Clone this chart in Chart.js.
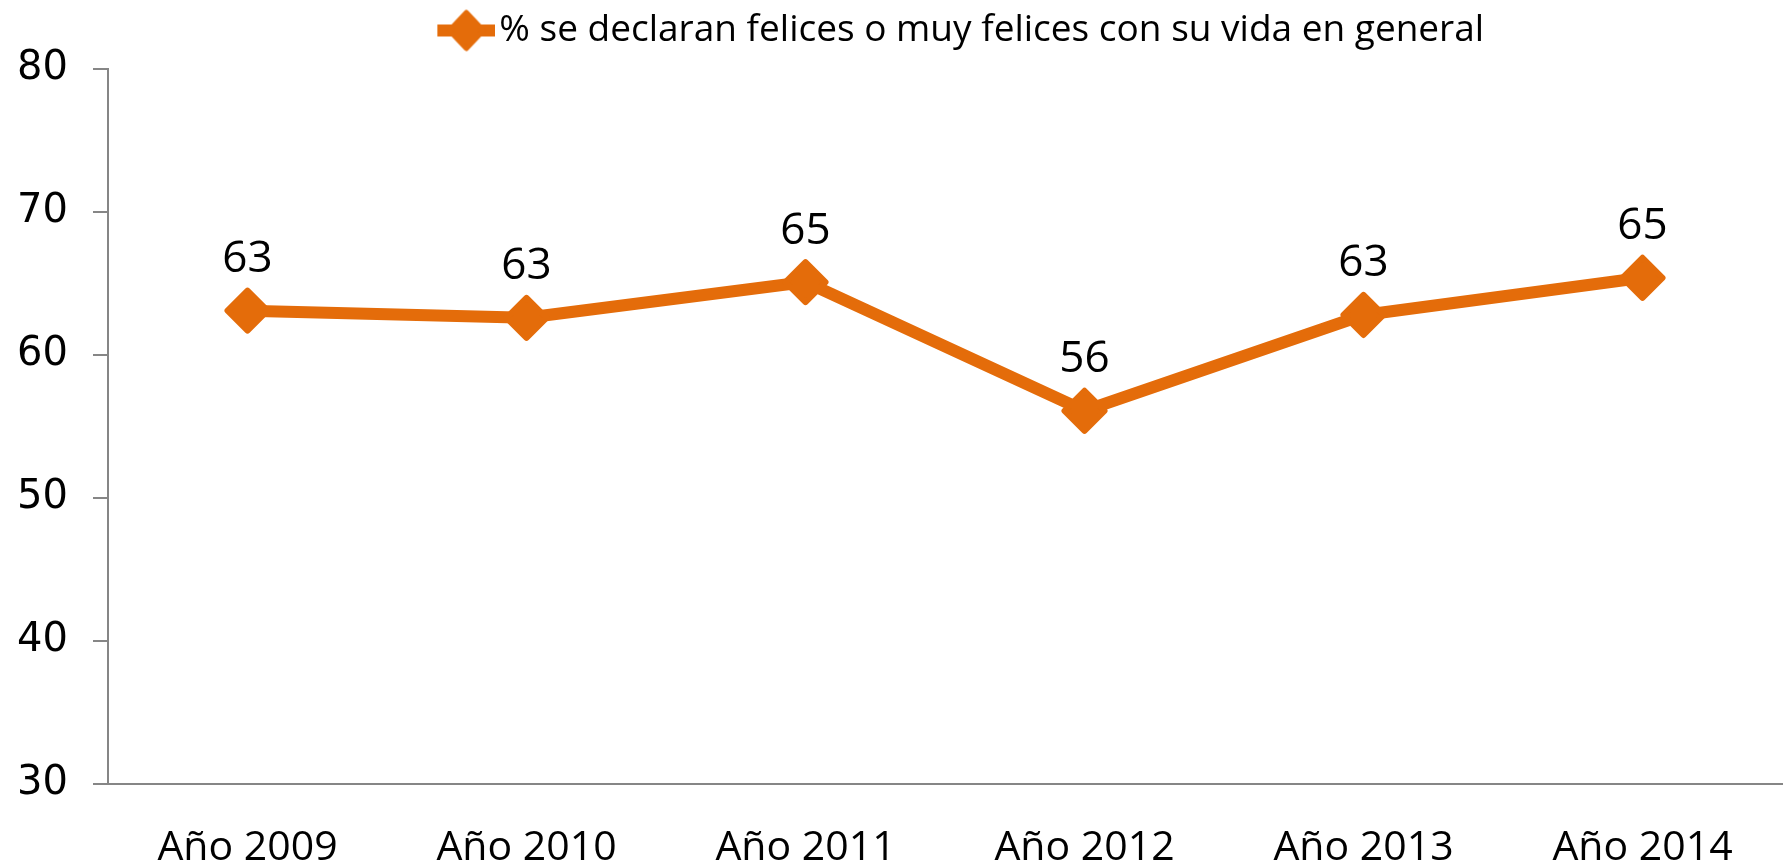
<!DOCTYPE html>
<html>
<head>
<meta charset="utf-8">
<script src="https://cdn.jsdelivr.net/npm/chart.js@4/dist/chart.umd.min.js"></script>
<style>
  html, body { margin: 0; padding: 0; background: #fff; overflow: hidden; }
  #wrap { width: 1785px; height: 868px; }
</style>
</head>
<body>
<div id="wrap"><canvas id="happyChart"></canvas></div>
<script>
// Datos
const years = ['Año 2009', 'Año 2010', 'Año 2011', 'Año 2012', 'Año 2013', 'Año 2014'];
const happyPct = [63.1, 62.6, 65.1, 56.1, 62.8, 65.4];
const yTicks = [30, 40, 50, 60, 70, 80];
const seriesLabel = '% se declaran felices o muy felices con su vida en general';

const orange = '#E46C0A';
const axisGray = '#868686';

// legend box is wider than the marker so the legend sits a bit right of centre
const legendBoxWidth = 183;

// Legend marker: line with diamond, drawn on the right side of the image
function makeLegendMarker() {
    const c = document.createElement('canvas');
    c.width = legendBoxWidth + 29;
    c.height = 44;
    const g = c.getContext('2d');
    const x0 = c.width - 58;
    g.strokeStyle = orange;
    g.fillStyle = orange;
    g.lineWidth = 12;
    g.beginPath();
    g.moveTo(x0, 22);
    g.lineTo(x0 + 58, 22);
    g.stroke();
    g.lineWidth = 5;
    g.lineJoin = 'round';
    g.beginPath();
    g.moveTo(x0 + 29, 4);
    g.lineTo(x0 + 46, 22);
    g.lineTo(x0 + 29, 40);
    g.lineTo(x0 + 12, 22);
    g.closePath();
    g.fill();
    g.stroke();
    return c;
}

// Data labels above each point + extra room under the legend
const valueLabels = {
    id: 'valueLabels',
    afterInit(chart) {
        const legend = chart.legend;
        if (legend && !legend._padded) {
            const origFit = legend.fit;
            legend.fit = function() {
                origFit.call(this);
                this.height += 10;
            };
            legend._padded = true;
        }
    },
    beforeDatasetsDraw(chart) {
        chart.ctx.lineJoin = 'round';
    },
    afterDatasetsDraw(chart) {
        const ctx = chart.ctx;
        const meta = chart.getDatasetMeta(0);
        ctx.save();
        ctx.font = '44px "Open Sans"';
        ctx.fillStyle = '#000';
        ctx.textAlign = 'center';
        ctx.textBaseline = 'middle';
        meta.data.forEach(function(pt, i) {
            ctx.fillText(String(Math.round(happyPct[i])), pt.x, pt.y - 51);
        });
        ctx.restore();
    }
};

const ctx = document.getElementById('happyChart').getContext('2d');
const happyChart = new Chart(ctx, {
    type: 'line',
    data: {
        labels: years,
        datasets: [{
            label: seriesLabel,
            data: happyPct,
            borderColor: orange,
            backgroundColor: orange,
            borderWidth: 12,
            borderJoinStyle: 'round',
            tension: 0,
            fill: false,
            pointStyle: 'rectRot',
            pointRadius: 20,
            pointBorderWidth: 6,
            pointBackgroundColor: orange,
            pointBorderColor: orange,
        }]
    },
    options: {
        responsive: true,
        maintainAspectRatio: false,
        animation: false,
        layout: {
            autoPadding: false,
            padding: { left: 0, right: 3, top: 0, bottom: 0 }
        },
        plugins: {
            legend: {
                position: 'top',
                labels: {
                    usePointStyle: true,
                    pointStyle: makeLegendMarker(),
                    pointStyleWidth: legendBoxWidth,
                    padding: 12,
                    color: '#000',
                    font: { family: 'Open Sans', size: 37 }
                }
            },
            tooltip: { enabled: false }
        },
        scales: {
            x: {
                offset: true,
                grid: { display: false, drawTicks: false },
                border: { display: true, color: axisGray, width: 2 },
                ticks: {
                    color: '#000',
                    padding: 40,
                    font: { family: 'Open Sans', size: 41 }
                },
                afterFit: function(scale) {
                    scale.height = 84;
                    scale.paddingLeft = 0;
                    scale.paddingRight = 0;
                }
            },
            y: {
                min: 30,
                max: 80,
                afterBuildTicks: function(scale) {
                    scale.ticks = yTicks.map(v => ({ value: v }));
                },
                grid: {
                    drawOnChartArea: false,
                    drawTicks: true,
                    tickLength: 15,
                    color: axisGray,
                    lineWidth: 2
                },
                border: { display: true, color: axisGray, width: 2 },
                ticks: {
                    color: '#000',
                    padding: 25,
                    font: { family: 'DejaVu Sans', size: 40 }
                },
                afterFit: function(scale) { scale.width = 108; }
            }
        }
    },
    plugins: [valueLabels]
});
</script>
</body>
</html>
